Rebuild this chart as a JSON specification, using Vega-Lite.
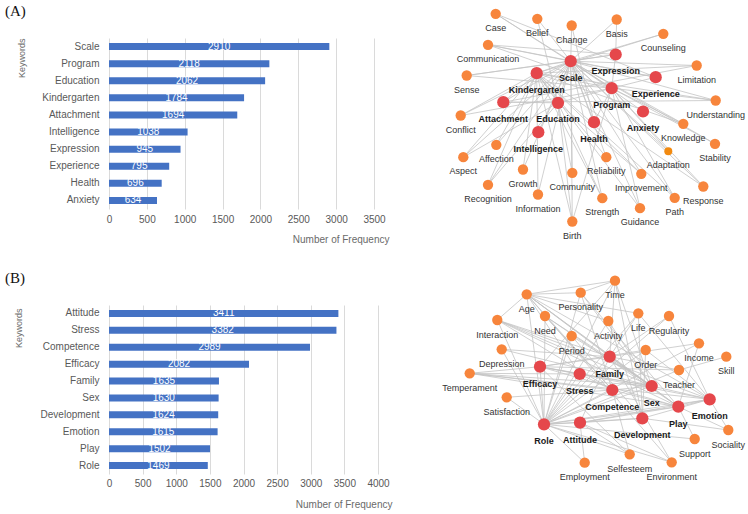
{
  "$schema": "https://vega.github.io/schema/vega-lite/v6.json",
  "padding": {"left": 4, "top": 4, "right": 0, "bottom": 0},
  "autosize": {"type": "pad"},
  "background": "white",
  "bounds": "flush",
  "columns": 2,
  "spacing": {"row": 96, "column": 66},
  "config": {
    "view": {"stroke": null},
    "axis": {"labelFont": "Liberation Sans", "titleFont": "Liberation Sans", "titleFontWeight": "normal", "labelColor": "#595959", "titleColor": "#6a6a6a", "domain": false, "ticks": false, "gridColor": "#dadada", "gridWidth": 1, "labelFlush": false, "labelOverlap": false},
    "title": {"font": "Liberation Serif", "fontWeight": "normal", "color": "#111", "fontSize": 15}
  },
  "datasets": {
    "barsA": [
      {"keyword": "Scale", "freq": 2910}, {"keyword": "Program", "freq": 2118}, {"keyword": "Education", "freq": 2062},
      {"keyword": "Kindergarten", "freq": 1784}, {"keyword": "Attachment", "freq": 1694}, {"keyword": "Intelligence", "freq": 1038},
      {"keyword": "Expression", "freq": 945}, {"keyword": "Experience", "freq": 795}, {"keyword": "Health", "freq": 696},
      {"keyword": "Anxiety", "freq": 634}
    ],
    "barsB": [
      {"keyword": "Attitude", "freq": 3411}, {"keyword": "Stress", "freq": 3382}, {"keyword": "Competence", "freq": 2989},
      {"keyword": "Efficacy", "freq": 2082}, {"keyword": "Family", "freq": 1635}, {"keyword": "Sex", "freq": 1630},
      {"keyword": "Development", "freq": 1624}, {"keyword": "Emotion", "freq": 1615}, {"keyword": "Play", "freq": 1502},
      {"keyword": "Role", "freq": 1469}
    ],
    "nodesA": [
      {"name": "Case", "x": 496.7, "y": 13.3, "kind": "minor"},
      {"name": "Belief", "x": 538.3, "y": 18.3, "kind": "minor"},
      {"name": "Change", "x": 572.7, "y": 25, "kind": "minor"},
      {"name": "Basis", "x": 617.7, "y": 19, "kind": "minor"},
      {"name": "Counseling", "x": 664.3, "y": 33.3, "kind": "minor"},
      {"name": "Communication", "x": 489, "y": 44.3, "kind": "minor"},
      {"name": "Limitation", "x": 697.7, "y": 65, "kind": "minor"},
      {"name": "Sense", "x": 467.7, "y": 75, "kind": "minor"},
      {"name": "Understanding", "x": 716.7, "y": 100, "kind": "minor"},
      {"name": "Conflict", "x": 461.7, "y": 115, "kind": "minor"},
      {"name": "Knowledge", "x": 684.3, "y": 123.3, "kind": "minor"},
      {"name": "Stability", "x": 716, "y": 143.3, "kind": "minor"},
      {"name": "Affection", "x": 497.3, "y": 144.3, "kind": "minor"},
      {"name": "Aspect", "x": 464.3, "y": 156.7, "kind": "minor"},
      {"name": "Adaptation", "x": 669.3, "y": 150.7, "kind": "focus"},
      {"name": "Growth", "x": 524, "y": 169, "kind": "minor"},
      {"name": "Reliability", "x": 607.3, "y": 156.7, "kind": "minor"},
      {"name": "Community", "x": 573.3, "y": 172.3, "kind": "minor"},
      {"name": "Improvement", "x": 642.3, "y": 173.3, "kind": "minor"},
      {"name": "Recognition", "x": 489, "y": 184.3, "kind": "minor"},
      {"name": "Information", "x": 539, "y": 194, "kind": "minor"},
      {"name": "Strength", "x": 603.3, "y": 197.7, "kind": "minor"},
      {"name": "Response", "x": 704.3, "y": 186, "kind": "minor"},
      {"name": "Path", "x": 675.7, "y": 197.3, "kind": "minor"},
      {"name": "Guidance", "x": 641, "y": 207.7, "kind": "minor"},
      {"name": "Birth", "x": 573.3, "y": 221, "kind": "minor"},
      {"name": "Scale", "x": 571.7, "y": 60.7, "kind": "main"},
      {"name": "Expression", "x": 616.7, "y": 54, "kind": "main"},
      {"name": "Kindergarten", "x": 537.7, "y": 72.7, "kind": "main"},
      {"name": "Experience", "x": 656.7, "y": 76.7, "kind": "main"},
      {"name": "Program", "x": 612.7, "y": 87.7, "kind": "main"},
      {"name": "Attachment", "x": 504.3, "y": 101.7, "kind": "main"},
      {"name": "Education", "x": 559, "y": 102.3, "kind": "main"},
      {"name": "Anxiety", "x": 644, "y": 111, "kind": "main"},
      {"name": "Health", "x": 595, "y": 121.7, "kind": "main"},
      {"name": "Intelligence", "x": 539.3, "y": 131.7, "kind": "main"}
    ],
    "edgesA": [
      {"s": "Case", "t": "Scale"}, {"s": "Case", "t": "Program"}, {"s": "Case", "t": "Experience"},
      {"s": "Belief", "t": "Scale"}, {"s": "Belief", "t": "Education"},
      {"s": "Change", "t": "Scale"}, {"s": "Change", "t": "Health"},
      {"s": "Basis", "t": "Scale"}, {"s": "Basis", "t": "Expression"},
      {"s": "Counseling", "t": "Scale"}, {"s": "Counseling", "t": "Kindergarten"},
      {"s": "Communication", "t": "Scale"}, {"s": "Communication", "t": "Expression"}, {"s": "Communication", "t": "Program"}, {"s": "Communication", "t": "Experience"},
      {"s": "Sense", "t": "Scale"}, {"s": "Sense", "t": "Expression"}, {"s": "Sense", "t": "Program"},
      {"s": "Limitation", "t": "Scale"}, {"s": "Limitation", "t": "Kindergarten"}, {"s": "Limitation", "t": "Attachment"},
      {"s": "Understanding", "t": "Scale"}, {"s": "Understanding", "t": "Kindergarten"}, {"s": "Understanding", "t": "Attachment"}, {"s": "Understanding", "t": "Program"},
      {"s": "Conflict", "t": "Scale"}, {"s": "Conflict", "t": "Kindergarten"}, {"s": "Conflict", "t": "Program"},
      {"s": "Knowledge", "t": "Scale"}, {"s": "Knowledge", "t": "Kindergarten"}, {"s": "Knowledge", "t": "Program"},
      {"s": "Stability", "t": "Scale"}, {"s": "Stability", "t": "Program"},
      {"s": "Affection", "t": "Kindergarten"}, {"s": "Affection", "t": "Scale"},
      {"s": "Aspect", "t": "Kindergarten"}, {"s": "Aspect", "t": "Scale"}, {"s": "Aspect", "t": "Education"},
      {"s": "Recognition", "t": "Kindergarten"}, {"s": "Recognition", "t": "Scale"}, {"s": "Recognition", "t": "Education"},
      {"s": "Growth", "t": "Scale"}, {"s": "Growth", "t": "Kindergarten"},
      {"s": "Information", "t": "Scale"}, {"s": "Information", "t": "Kindergarten"},
      {"s": "Community", "t": "Scale"}, {"s": "Community", "t": "Education"},
      {"s": "Reliability", "t": "Scale"}, {"s": "Reliability", "t": "Kindergarten"},
      {"s": "Improvement", "t": "Scale"}, {"s": "Improvement", "t": "Kindergarten"}, {"s": "Improvement", "t": "Education"},
      {"s": "Strength", "t": "Scale"}, {"s": "Strength", "t": "Kindergarten"}, {"s": "Strength", "t": "Education"},
      {"s": "Guidance", "t": "Scale"}, {"s": "Guidance", "t": "Kindergarten"}, {"s": "Guidance", "t": "Program"},
      {"s": "Path", "t": "Scale"}, {"s": "Path", "t": "Kindergarten"}, {"s": "Path", "t": "Program"},
      {"s": "Response", "t": "Scale"}, {"s": "Response", "t": "Program"}, {"s": "Response", "t": "Kindergarten"},
      {"s": "Birth", "t": "Scale"}, {"s": "Birth", "t": "Kindergarten"}, {"s": "Birth", "t": "Education"}, {"s": "Birth", "t": "Program"},
      {"s": "Adaptation", "t": "Scale"}, {"s": "Adaptation", "t": "Program"},
      {"s": "Scale", "t": "Expression"}, {"s": "Scale", "t": "Kindergarten"}, {"s": "Scale", "t": "Program"}, {"s": "Scale", "t": "Education"},
      {"s": "Scale", "t": "Health"}, {"s": "Scale", "t": "Attachment"}, {"s": "Scale", "t": "Intelligence"}, {"s": "Scale", "t": "Experience"},
      {"s": "Scale", "t": "Anxiety"}, {"s": "Kindergarten", "t": "Program"}, {"s": "Kindergarten", "t": "Education"}, {"s": "Kindergarten", "t": "Attachment"},
      {"s": "Education", "t": "Program"}, {"s": "Program", "t": "Health"}, {"s": "Expression", "t": "Program"}, {"s": "Experience", "t": "Program"},
      {"s": "Attachment", "t": "Education"}
    ],
    "nodesB": [
      {"name": "Time", "x": 616, "y": 280.7, "kind": "minor"},
      {"name": "Personality", "x": 581.7, "y": 292.7, "kind": "minor"},
      {"name": "Age", "x": 527.7, "y": 294.3, "kind": "minor"},
      {"name": "Need", "x": 546, "y": 316, "kind": "minor"},
      {"name": "Life", "x": 639.3, "y": 313.3, "kind": "minor"},
      {"name": "Regularity", "x": 670, "y": 316, "kind": "minor"},
      {"name": "Activity", "x": 609.3, "y": 321, "kind": "minor"},
      {"name": "Interaction", "x": 498.3, "y": 320, "kind": "minor"},
      {"name": "Period", "x": 572.7, "y": 336, "kind": "minor"},
      {"name": "Income", "x": 700, "y": 343.3, "kind": "minor"},
      {"name": "Depression", "x": 502.7, "y": 349.3, "kind": "minor"},
      {"name": "Order", "x": 646.7, "y": 350, "kind": "minor"},
      {"name": "Skill", "x": 727.3, "y": 356.7, "kind": "minor"},
      {"name": "Temperament", "x": 470.7, "y": 373.3, "kind": "minor"},
      {"name": "Teacher", "x": 680, "y": 370, "kind": "minor"},
      {"name": "Satisfaction", "x": 507.7, "y": 397.3, "kind": "minor"},
      {"name": "Sociality", "x": 729.3, "y": 430, "kind": "minor"},
      {"name": "Support", "x": 695.7, "y": 439, "kind": "minor"},
      {"name": "Selfesteem", "x": 630.7, "y": 454.3, "kind": "minor"},
      {"name": "Environment", "x": 672.7, "y": 462.3, "kind": "minor"},
      {"name": "Employment", "x": 585.7, "y": 462.7, "kind": "minor"},
      {"name": "Efficacy", "x": 541, "y": 366.7, "kind": "main"},
      {"name": "Family", "x": 610.7, "y": 356.7, "kind": "main"},
      {"name": "Stress", "x": 580.7, "y": 374, "kind": "main"},
      {"name": "Competence", "x": 613.3, "y": 390, "kind": "main"},
      {"name": "Sex", "x": 652.7, "y": 386, "kind": "main"},
      {"name": "Emotion", "x": 710.7, "y": 399.3, "kind": "main"},
      {"name": "Play", "x": 679.3, "y": 406.7, "kind": "main"},
      {"name": "Development", "x": 643.3, "y": 418.3, "kind": "main"},
      {"name": "Attitude", "x": 581, "y": 422.7, "kind": "main"},
      {"name": "Role", "x": 545, "y": 424.3, "kind": "main"}
    ],
    "edgesB": [
      {"s": "Time", "t": "Age"}, {"s": "Time", "t": "Personality"}, {"s": "Time", "t": "Role"}, {"s": "Time", "t": "Family"}, {"s": "Time", "t": "Sex"}, {"s": "Time", "t": "Efficacy"}, {"s": "Time", "t": "Development"},
      {"s": "Personality", "t": "Age"}, {"s": "Personality", "t": "Role"}, {"s": "Personality", "t": "Sex"}, {"s": "Personality", "t": "Play"}, {"s": "Personality", "t": "Competence"},
      {"s": "Age", "t": "Family"}, {"s": "Age", "t": "Sex"}, {"s": "Age", "t": "Emotion"}, {"s": "Age", "t": "Competence"}, {"s": "Age", "t": "Stress"}, {"s": "Age", "t": "Role"}, {"s": "Age", "t": "Play"}, {"s": "Age", "t": "Interaction"},
      {"s": "Need", "t": "Sex"}, {"s": "Need", "t": "Play"}, {"s": "Need", "t": "Role"}, {"s": "Need", "t": "Competence"},
      {"s": "Life", "t": "Role"}, {"s": "Life", "t": "Age"}, {"s": "Life", "t": "Family"}, {"s": "Life", "t": "Development"}, {"s": "Life", "t": "Emotion"},
      {"s": "Regularity", "t": "Family"}, {"s": "Regularity", "t": "Role"}, {"s": "Regularity", "t": "Emotion"},
      {"s": "Activity", "t": "Role"}, {"s": "Activity", "t": "Age"}, {"s": "Activity", "t": "Sex"}, {"s": "Activity", "t": "Development"},
      {"s": "Interaction", "t": "Family"}, {"s": "Interaction", "t": "Competence"}, {"s": "Interaction", "t": "Sex"}, {"s": "Interaction", "t": "Emotion"}, {"s": "Interaction", "t": "Play"}, {"s": "Interaction", "t": "Role"},
      {"s": "Period", "t": "Role"}, {"s": "Period", "t": "Sex"}, {"s": "Period", "t": "Development"},
      {"s": "Income", "t": "Family"}, {"s": "Income", "t": "Role"}, {"s": "Income", "t": "Play"},
      {"s": "Depression", "t": "Role"}, {"s": "Depression", "t": "Family"}, {"s": "Depression", "t": "Sex"},
      {"s": "Order", "t": "Role"}, {"s": "Order", "t": "Efficacy"}, {"s": "Order", "t": "Emotion"}, {"s": "Order", "t": "Development"},
      {"s": "Skill", "t": "Teacher"},
      {"s": "Temperament", "t": "Stress"}, {"s": "Temperament", "t": "Competence"}, {"s": "Temperament", "t": "Sex"}, {"s": "Temperament", "t": "Play"}, {"s": "Temperament", "t": "Efficacy"}, {"s": "Temperament", "t": "Emotion"},
      {"s": "Teacher", "t": "Role"}, {"s": "Teacher", "t": "Family"}, {"s": "Teacher", "t": "Efficacy"},
      {"s": "Satisfaction", "t": "Role"}, {"s": "Satisfaction", "t": "Competence"},
      {"s": "Sociality", "t": "Play"}, {"s": "Sociality", "t": "Emotion"}, {"s": "Sociality", "t": "Development"},
      {"s": "Support", "t": "Role"}, {"s": "Support", "t": "Play"},
      {"s": "Selfesteem", "t": "Role"}, {"s": "Selfesteem", "t": "Competence"}, {"s": "Selfesteem", "t": "Efficacy"}, {"s": "Selfesteem", "t": "Attitude"},
      {"s": "Environment", "t": "Role"}, {"s": "Environment", "t": "Family"}, {"s": "Environment", "t": "Age"}, {"s": "Environment", "t": "Attitude"},
      {"s": "Employment", "t": "Role"}, {"s": "Employment", "t": "Attitude"},
      {"s": "Role", "t": "Attitude"}, {"s": "Role", "t": "Development"}, {"s": "Role", "t": "Play"}, {"s": "Role", "t": "Emotion"}, {"s": "Role", "t": "Family"},
      {"s": "Role", "t": "Competence"}, {"s": "Role", "t": "Stress"}, {"s": "Role", "t": "Efficacy"}, {"s": "Role", "t": "Sex"},
      {"s": "Attitude", "t": "Development"}, {"s": "Attitude", "t": "Play"}, {"s": "Attitude", "t": "Emotion"}, {"s": "Attitude", "t": "Family"},
      {"s": "Efficacy", "t": "Stress"}, {"s": "Efficacy", "t": "Family"}, {"s": "Efficacy", "t": "Sex"}, {"s": "Stress", "t": "Competence"}, {"s": "Stress", "t": "Sex"},
      {"s": "Family", "t": "Sex"}, {"s": "Competence", "t": "Sex"}, {"s": "Competence", "t": "Play"}, {"s": "Sex", "t": "Emotion"}, {"s": "Play", "t": "Emotion"},
      {"s": "Development", "t": "Emotion"}, {"s": "Family", "t": "Play"}, {"s": "Efficacy", "t": "Play"}, {"s": "Efficacy", "t": "Emotion"}
    ]
  },
  "concat": [
    {
      "title": {"text": "(A)", "anchor": "start", "frame": "bounds", "baseline": "alphabetic", "dx": -12, "offset": 7},
      "width": 265,
      "height": 171,
      "data": {"name": "barsA"},
      "encoding": {
        "y": {"field": "keyword", "type": "nominal", "sort": null, "scale": {"paddingInner": 0, "paddingOuter": 0},
          "axis": {"grid": false, "labelPadding": 10, "labelFontSize": 10, "title": "Keywords", "titleFontSize": 9, "titleAngle": -90, "titleX": -88, "titleY": 0, "titleAlign": "right", "titleBaseline": "middle"}}
      },
      "layer": [
        {"mark": {"type": "bar", "color": "#4472c4", "height": 7},
          "encoding": {"x": {"field": "freq", "type": "quantitative", "scale": {"domain": [0, 3500], "nice": false},
            "axis": {"values": [0, 500, 1000, 1500, 2000, 2500, 3000, 3500], "format": "d", "grid": true, "labelPadding": 5, "labelFontSize": 10, "title": "Number of Frequency", "titleFontSize": 10, "titleX": 280, "titleY": 30, "titleAlign": "right", "titleBaseline": "middle"}}}},
        {"mark": {"type": "text", "color": "white", "font": "Liberation Sans", "fontSize": 10, "baseline": "middle"},
          "encoding": {"x": {"field": "freq", "type": "quantitative", "scale": {"domain": [0, 7000], "nice": false}, "axis": null}, "text": {"field": "freq", "type": "quantitative", "format": "d"}}}
      ],
      "resolve": {"scale": {"x": "independent"}, "axis": {"x": "independent"}}
    },
    {
      "width": 290,
      "height": 171,
      "encoding": {
        "x": {"field": "x", "type": "quantitative", "scale": {"domain": [445, 735], "nice": false, "zero": false}, "axis": null},
        "y": {"field": "y", "type": "quantitative", "scale": {"domain": [37.5, 208.5], "nice": false, "zero": false, "reverse": true}, "axis": null}
      },
      "layer": [
        {
          "data": {"name": "edgesA"},
          "transform": [
            {"lookup": "s", "from": {"data": {"name": "nodesA"}, "key": "name", "fields": ["x", "y"]}},
            {"lookup": "t", "from": {"data": {"name": "nodesA"}, "key": "name", "fields": ["x", "y"]}, "as": ["x2", "y2"]}
          ],
          "mark": {"type": "rule", "color": "#c4c4c4", "strokeWidth": 0.8},
          "encoding": {"x2": {"field": "x2"}, "y2": {"field": "y2"}}
        },
        {
          "data": {"name": "nodesA"},
          "mark": {"type": "point", "filled": true, "opacity": 1, "shape": "circle"},
          "encoding": {
            "color": {"field": "kind", "type": "nominal", "scale": {"domain": ["main", "minor", "focus"], "range": ["#e5474b", "#f7853c", "#f28a10"]}, "legend": null},
            "size": {"field": "kind", "type": "nominal", "scale": {"domain": ["main", "minor", "focus"], "range": [150, 64, 64]}, "legend": null}
          }
        },
        {
          "data": {"name": "nodesA"},
          "transform": [{"filter": "datum.kind !== 'main'"}],
          "mark": {"type": "text", "font": "Liberation Sans", "fontSize": 9, "color": "#333", "dy": 14, "baseline": "middle"},
          "encoding": {"text": {"field": "name"}}
        },
        {
          "data": {"name": "nodesA"},
          "transform": [{"filter": "datum.kind === 'main'"}],
          "mark": {"type": "text", "font": "Liberation Sans", "fontSize": 9, "fontWeight": "bold", "color": "#1a1a1a", "dy": 16.5, "baseline": "middle"},
          "encoding": {"text": {"field": "name"}}
        }
      ]
    },
    {
      "title": {"text": "(B)", "anchor": "start", "frame": "bounds", "baseline": "alphabetic", "dx": -9.5, "offset": 7},
      "width": 269,
      "height": 169,
      "data": {"name": "barsB"},
      "encoding": {
        "y": {"field": "keyword", "type": "nominal", "sort": null, "scale": {"paddingInner": 0, "paddingOuter": 0},
          "axis": {"grid": false, "labelPadding": 10, "labelFontSize": 10, "title": "Keywords", "titleFontSize": 9, "titleAngle": -90, "titleX": -90.5, "titleY": 3, "titleAlign": "right", "titleBaseline": "middle"}}
      },
      "layer": [
        {"mark": {"type": "bar", "color": "#4472c4", "height": 7},
          "encoding": {"x": {"field": "freq", "type": "quantitative", "scale": {"domain": [0, 4000], "nice": false},
            "axis": {"values": [0, 500, 1000, 1500, 2000, 2500, 3000, 3500, 4000], "format": "d", "grid": true, "labelPadding": 4.5, "labelFontSize": 10, "title": "Number of Frequency", "titleFontSize": 10, "titleX": 283, "titleY": 30.5, "titleAlign": "right", "titleBaseline": "middle"}}}},
        {"mark": {"type": "text", "color": "white", "font": "Liberation Sans", "fontSize": 10, "baseline": "middle"},
          "encoding": {"x": {"field": "freq", "type": "quantitative", "scale": {"domain": [0, 8000], "nice": false}, "axis": null}, "text": {"field": "freq", "type": "quantitative", "format": "d"}}}
      ],
      "resolve": {"scale": {"x": "independent"}, "axis": {"x": "independent"}}
    },
    {
      "width": 290,
      "height": 169,
      "encoding": {
        "x": {"field": "x", "type": "quantitative", "scale": {"domain": [445, 735], "nice": false, "zero": false}, "axis": null},
        "y": {"field": "y", "type": "quantitative", "scale": {"domain": [305, 474], "nice": false, "zero": false, "reverse": true}, "axis": null}
      },
      "layer": [
        {
          "data": {"name": "edgesB"},
          "transform": [
            {"lookup": "s", "from": {"data": {"name": "nodesB"}, "key": "name", "fields": ["x", "y"]}},
            {"lookup": "t", "from": {"data": {"name": "nodesB"}, "key": "name", "fields": ["x", "y"]}, "as": ["x2", "y2"]}
          ],
          "mark": {"type": "rule", "color": "#c4c4c4", "strokeWidth": 0.8},
          "encoding": {"x2": {"field": "x2"}, "y2": {"field": "y2"}}
        },
        {
          "data": {"name": "nodesB"},
          "mark": {"type": "point", "filled": true, "opacity": 1, "shape": "circle"},
          "encoding": {
            "color": {"field": "kind", "type": "nominal", "scale": {"domain": ["main", "minor", "focus"], "range": ["#e5474b", "#f7853c", "#f28a10"]}, "legend": null},
            "size": {"field": "kind", "type": "nominal", "scale": {"domain": ["main", "minor", "focus"], "range": [150, 64, 64]}, "legend": null}
          }
        },
        {
          "data": {"name": "nodesB"},
          "transform": [{"filter": "datum.kind !== 'main'"}],
          "mark": {"type": "text", "font": "Liberation Sans", "fontSize": 9, "color": "#333", "dy": 14.5, "baseline": "middle"},
          "encoding": {"text": {"field": "name"}}
        },
        {
          "data": {"name": "nodesB"},
          "transform": [{"filter": "datum.kind === 'main'"}],
          "mark": {"type": "text", "font": "Liberation Sans", "fontSize": 9, "fontWeight": "bold", "color": "#1a1a1a", "dy": 17, "baseline": "middle"},
          "encoding": {"text": {"field": "name"}}
        }
      ]
    }
  ],
  "resolve": {"scale": {"color": "independent", "size": "independent", "x": "independent", "y": "independent"}}
}
